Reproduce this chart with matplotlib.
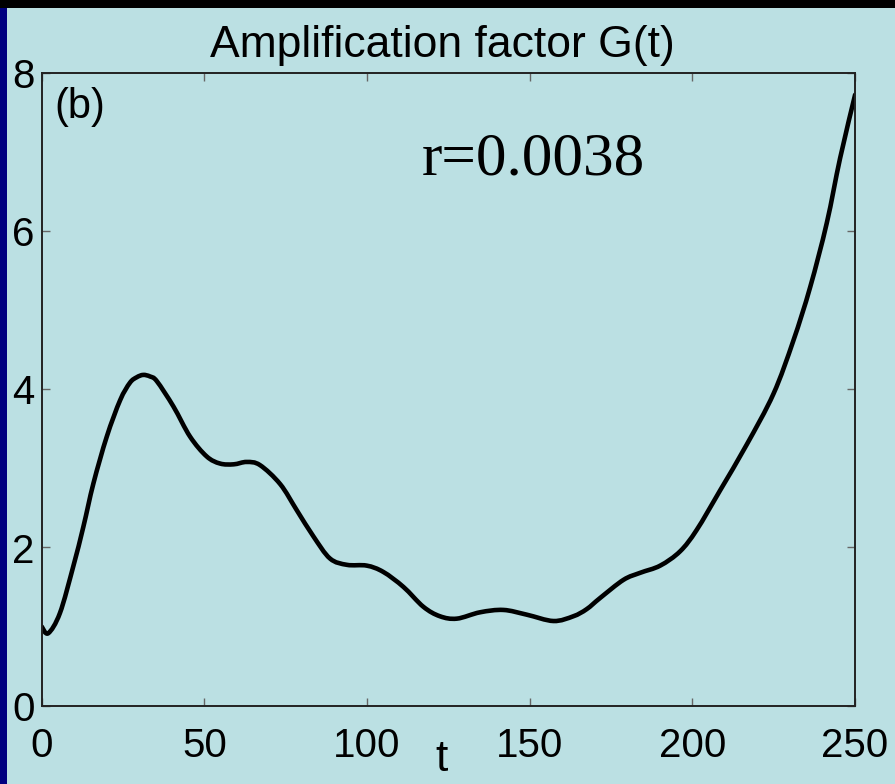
import matplotlib
matplotlib.use("Agg")
import matplotlib.pyplot as plt
from matplotlib.patches import Rectangle, PathPatch
from matplotlib.path import Path

# Data
t = [0, 2, 5.6, 9.7, 12.8, 15.9, 20, 24.1, 27.1, 29.2, 31.2, 33.3, 35.4, 40.5, 45.6,
     50.7, 54.8, 59, 63, 67.1, 73.3, 78.4, 83.5, 88.6, 93.8, 99.9, 105, 111.2,
     117.3, 122.4, 127.6, 134.7, 141.9, 149.1, 157.3, 163.4, 167.5, 171.6, 178.8,
     184, 190.1, 196.2, 201.3, 208.5, 216.7, 224.9, 231, 236.2, 241.3, 245.4, 250]
G = [1.0, 0.915, 1.17, 1.76, 2.26, 2.81, 3.40, 3.86, 4.08, 4.15, 4.18, 4.16, 4.10,
     3.78, 3.40, 3.15, 3.06, 3.05, 3.08, 3.04, 2.80, 2.47, 2.14, 1.86, 1.78, 1.77,
     1.69, 1.50, 1.25, 1.13, 1.10, 1.18, 1.21, 1.15, 1.07, 1.13, 1.22, 1.36, 1.59,
     1.68, 1.77, 1.95, 2.22, 2.72, 3.30, 3.94, 4.61, 5.29, 6.10, 6.92, 7.72]
xticks = [0, 50, 100, 150, 200, 250]
yticks = [0, 2, 4, 6, 8]
title = "Amplification factor G(t)"
xlabel = "t"
panel_tag = "(b)"
annotation = "r=0.0038"

panel_color = "#bbe0e3"

fig = plt.figure(figsize=(8.951, 7.841), dpi=100)
fig.patch.set_facecolor("#000080")
fig.add_artist(Rectangle((0, 1 - 8 / 784), 1, 8 / 784, transform=fig.transFigure,
                         facecolor="black", edgecolor="none", zorder=0))
fig.add_artist(Rectangle((7 / 895, 0), 1, 1 - 8 / 784, transform=fig.transFigure,
                         facecolor=panel_color, edgecolor="none", zorder=0))

ax = fig.add_axes([41.7 / 895, 1 - 705.7 / 784, 813.3 / 895, 633.0 / 784])
ax.set_facecolor(panel_color)

# Smooth curve through the data points (Catmull-Rom as cubic Bezier path)
n = len(t)
verts = [(t[0], G[0])]
codes = [Path.MOVETO]
for i in range(n - 1):
    p0 = (t[max(i - 1, 0)], G[max(i - 1, 0)])
    p1 = (t[i], G[i])
    p2 = (t[i + 1], G[i + 1])
    p3 = (t[min(i + 2, n - 1)], G[min(i + 2, n - 1)])
    c1 = (p1[0] + (p2[0] - p0[0]) / 6, p1[1] + (p2[1] - p0[1]) / 6)
    c2 = (p2[0] - (p3[0] - p1[0]) / 6, p2[1] - (p3[1] - p1[1]) / 6)
    verts += [c1, c2, p2]
    codes += [Path.CURVE4] * 3
ax.add_patch(PathPatch(Path(verts, codes), facecolor="none", edgecolor="black",
                       lw=3.3, capstyle="round", joinstyle="round"))

ax.set_xlim(0, 250)
ax.set_ylim(0, 8)
ax.set_xticks(xticks)
ax.set_yticks(yticks)
ax.set_xticklabels([str(v) for v in xticks])
ax.set_yticklabels([str(v) for v in yticks])

font = "Liberation Sans"
ax.tick_params(direction="in", length=6, width=1.0, color="#666666",
               top=True, right=True, labelsize=29, labelcolor="black")
ax.tick_params(axis="x", pad=15)
ax.tick_params(axis="y", pad=5)
for lab in ax.get_xticklabels() + ax.get_yticklabels():
    lab.set_fontfamily(font)
for sp in ax.spines.values():
    sp.set_color("#222222")
    sp.set_linewidth(1.4)

ax.set_title(title, fontsize=32, fontfamily=font, pad=11, x=0.492)
ax.set_xlabel(xlabel, fontsize=32, fontfamily=font)
ax.xaxis.set_label_coords(0.492, -0.052)

ax.text(0.016, 0.977, panel_tag, transform=ax.transAxes, fontsize=30,
        fontfamily=font, va="top", ha="left")
ax.text(116.8, 6.71, annotation, fontsize=44, fontfamily="Liberation Serif",
        va="baseline", ha="left")

fig.savefig("out.png", dpi=100, facecolor=fig.get_facecolor())
